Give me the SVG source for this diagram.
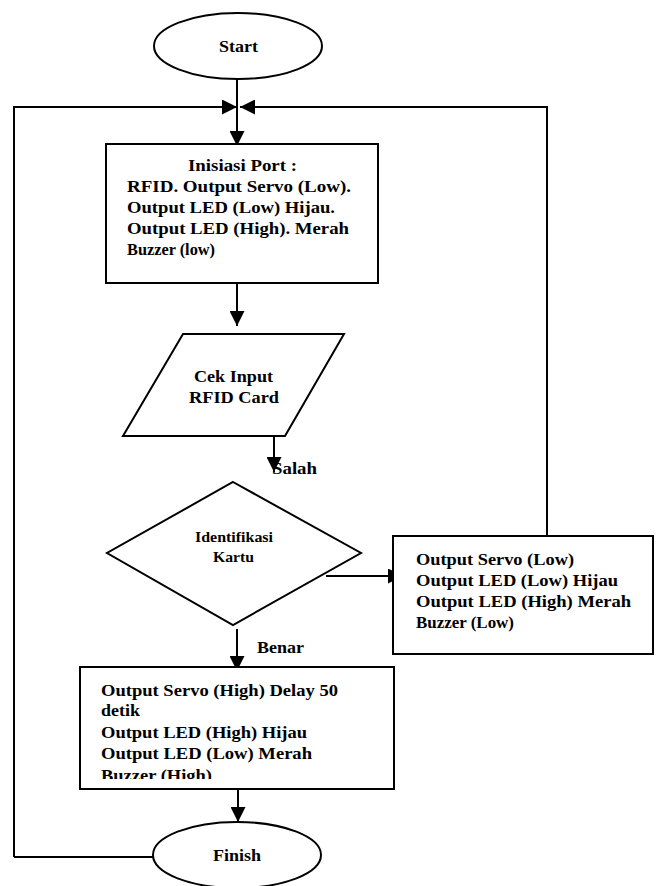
<svg xmlns="http://www.w3.org/2000/svg" width="657" height="886" viewBox="0 0 657 886">
<style>
.s{fill:#fff;stroke:#000;stroke-width:2}
.l{fill:none;stroke:#000;stroke-width:2}
text{font-family:"Liberation Serif","Times New Roman",serif;font-weight:bold;font-size:17px;fill:#000}
.sm{font-size:15px}
</style>
<defs>
<marker id="ah2" viewBox="0 0 10 10" refX="10" refY="5" markerWidth="15" markerHeight="15" orient="auto" markerUnits="userSpaceOnUse">
<path d="M0,0 L10,5 L0,10 Z" fill="#000"/>
</marker>
<clipPath id="c3"><rect x="80" y="667" width="314" height="112"/></clipPath>
</defs>
<rect width="657" height="886" fill="#fff"/>
<g id="connectors">
<line class="l" x1="237" y1="80" x2="237" y2="146" marker-end="url(#ah2)"/>
<polyline class="l" points="14,857 14,107 237,107" marker-end="url(#ah2)"/>
<polyline class="l" points="547,536 547,107 240,107" marker-end="url(#ah2)"/>
<line class="l" x1="237" y1="283" x2="237" y2="326" marker-end="url(#ah2)"/>
<line class="l" x1="274" y1="436" x2="274" y2="472" marker-end="url(#ah2)"/>
<line class="l" x1="326" y1="576" x2="403" y2="576" marker-end="url(#ah2)"/>
<line class="l" x1="237" y1="629" x2="237" y2="671" marker-end="url(#ah2)"/>
<line class="l" x1="238" y1="787" x2="238" y2="822" marker-end="url(#ah2)"/>
<line class="l" x1="14" y1="857" x2="153" y2="857"/>
<text x="272" y="474" textLength="45" lengthAdjust="spacingAndGlyphs">Salah</text>
<text x="257" y="653" textLength="47" lengthAdjust="spacingAndGlyphs">Benar</text>
</g>
<g id="start">
<ellipse class="s" cx="238" cy="46" rx="84" ry="33"/>
<text x="219" y="52" textLength="39" lengthAdjust="spacingAndGlyphs">Start</text>
</g>
<g id="init">
<rect class="s" x="106" y="144" width="272" height="139"/>
<text x="188" y="171" textLength="109" lengthAdjust="spacingAndGlyphs">Inisiasi Port :</text>
<text x="127" y="192" textLength="224" lengthAdjust="spacingAndGlyphs">RFID. Output Servo (Low).</text>
<text x="127" y="213" textLength="208" lengthAdjust="spacingAndGlyphs">Output LED (Low) Hijau.</text>
<text x="127" y="234" textLength="222" lengthAdjust="spacingAndGlyphs">Output LED (High). Merah</text>
<text x="127" y="255" textLength="88" lengthAdjust="spacingAndGlyphs">Buzzer (low)</text>
</g>
<g id="input">
<polygon class="s" points="183,334 344,334 285,436 123,436"/>
<text x="194" y="382" textLength="79" lengthAdjust="spacingAndGlyphs">Cek Input</text>
<text x="189" y="403" textLength="90" lengthAdjust="spacingAndGlyphs">RFID Card</text>
</g>
<g id="decision">
<polygon class="s" points="233,482 361,553 233,625 107,553"/>
<text class="sm" x="195" y="542" textLength="78" lengthAdjust="spacingAndGlyphs">Identifikasi</text>
<text class="sm" x="213" y="562" textLength="41" lengthAdjust="spacingAndGlyphs">Kartu</text>
</g>
<g id="fail">
<rect class="s" x="393" y="536" width="260" height="118"/>
<text x="416" y="565" textLength="158" lengthAdjust="spacingAndGlyphs">Output Servo (Low)</text>
<text x="416" y="586" textLength="202" lengthAdjust="spacingAndGlyphs">Output LED (Low) Hijau</text>
<text x="416" y="607" textLength="215" lengthAdjust="spacingAndGlyphs">Output LED (High) Merah</text>
<text x="416" y="628" textLength="98" lengthAdjust="spacingAndGlyphs">Buzzer (Low)</text>
</g>
<g id="success">
<rect class="s" x="80" y="667" width="314" height="122"/>
<g clip-path="url(#c3)">
<text x="101" y="696" textLength="237" lengthAdjust="spacingAndGlyphs">Output Servo (High) Delay 50</text>
<text x="101" y="716" textLength="39" lengthAdjust="spacingAndGlyphs">detik</text>
<text x="101" y="738" textLength="206" lengthAdjust="spacingAndGlyphs">Output LED (High) Hijau</text>
<text x="101" y="759" textLength="211" lengthAdjust="spacingAndGlyphs">Output LED (Low) Merah</text>
<text x="101" y="781" textLength="111" lengthAdjust="spacingAndGlyphs">Buzzer (High)</text>
</g>
</g>
<g id="finish">
<ellipse class="s" cx="237" cy="855" rx="84" ry="33"/>
<text x="213" y="861" textLength="48" lengthAdjust="spacingAndGlyphs">Finish</text>
</g>
</svg>
